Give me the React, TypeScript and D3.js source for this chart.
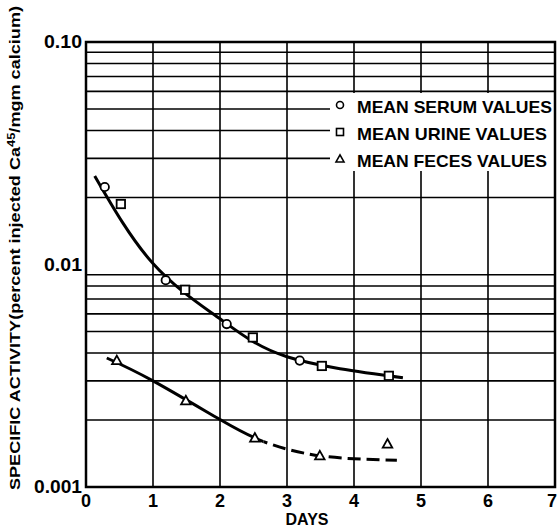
import React from "react";
import * as d3 from "d3";

const serumX = [0.28, 1.19, 2.1, 3.19];
const serumY = [0.0223, 0.0085, 0.0054, 0.0037];
const urineX = [0.52, 1.48, 2.49, 3.52, 4.52];
const urineY = [0.0187, 0.0077, 0.0047, 0.0035, 0.00316];
const fecesX = [0.46, 1.49, 2.52, 3.49, 4.5];
const fecesY = [0.0037, 0.00244, 0.00166, 0.00138, 0.00156];

const fitX = [0.13, 1.0, 2.0, 3.0, 4.73];
const fitY = [0.025, 0.0101, 0.0057, 0.00385, 0.0031];
const fecesFitX = [0.31, 1.0, 2.0, 2.65, 3.5, 4.64];
const fecesFitY = [0.0038, 0.0030, 0.00201, 0.0016, 0.00138, 0.00132];
const fecesSolidEnd = 2.65;

const xTicks = [0, 1, 2, 3, 4, 5, 6, 7];
const yTickLabels = [
  { v: 0.1, t: "0.10" },
  { v: 0.01, t: "0.01" },
  { v: 0.001, t: "0.001" },
];
const legendItems = ["MEAN SERUM VALUES", "MEAN URINE VALUES", "MEAN FECES VALUES"];

export default function App() {
  const L = 86, R = 555, T = 42, B = 487;
  const x = d3.scaleLinear().domain([0, 7]).range([L, R]);
  const y = d3.scaleLog().domain([0.001, 0.1]).range([B, T]);

  const gridY: number[] = [];
  for (const dec of [0.001, 0.01]) for (let k = 2; k <= 9; k++) gridY.push(dec * k);

  const lbX0 = 330, lbY0 = 93, lbY1 = 171;
  const line = d3
    .line<[number, number]>()
    .x((d) => x(d[0]))
    .y((d) => y(d[1]))
    .curve(d3.curveNatural);
  const zip = (a: number[], b: number[]) => a.map((v, i) => [v, b[i]] as [number, number]);

  const font = "'Liberation Sans', Arial, sans-serif";
  const tri = (cx: number, cy: number, s: number) =>
    `M${cx},${cy - s} L${cx + s * 0.95},${cy + s * 0.7} L${cx - s * 0.95},${cy + s * 0.7} Z`;
  const fecesPath = line(zip(fecesFitX, fecesFitY)) || "";
  const xs = x(fecesSolidEnd);

  return (
    <svg
      width={558}
      height={527}
      style={{ position: "absolute", left: 0, top: 0, background: "#fff" }}
      fontFamily={font}
    >
      <defs>
        <clipPath id="solidClip">
          <rect x={0} y={0} width={xs} height={527} />
        </clipPath>
        <clipPath id="dashClip">
          <rect x={xs} y={0} width={558 - xs} height={527} />
        </clipPath>
      </defs>
      <rect x={0} y={0} width={558} height={527} fill="#fff" />
      {gridY.map((v, i) => {
        const yy = y(v);
        const inLegend = yy > lbY0 && yy < lbY1 + 5;
        return (
          <line
            key={"h" + i}
            x1={L}
            x2={inLegend ? lbX0 : R}
            y1={yy}
            y2={yy}
            stroke="#000"
            strokeWidth={1.6}
          />
        );
      })}
      {xTicks.slice(1, 7).map((t) => {
        const xx = x(t);
        if (xx > lbX0) {
          return (
            <g key={"v" + t}>
              <line x1={xx} x2={xx} y1={T} y2={lbY0} stroke="#000" strokeWidth={1.6} />
              <line x1={xx} x2={xx} y1={lbY1} y2={B} stroke="#000" strokeWidth={1.6} />
            </g>
          );
        }
        return <line key={"v" + t} x1={xx} x2={xx} y1={T} y2={B} stroke="#000" strokeWidth={1.6} />;
      })}
      <rect x={L} y={T} width={R - L} height={B - T} fill="none" stroke="#000" strokeWidth={2.5} />
      {legendItems.map((t, i) => {
        const cy = 106 + i * 27;
        return (
          <g key={t}>
            {i === 0 && <circle cx={340} cy={cy - 1} r={3.5} fill="none" stroke="#000" strokeWidth={1.6} />}
            {i === 1 && <rect x={336.5} y={cy - 4.5} width={7} height={7} fill="none" stroke="#000" strokeWidth={1.6} />}
            {i === 2 && <path d={tri(340, cy - 1, 4.2)} fill="none" stroke="#000" strokeWidth={1.6} />}
            <text
              x={357}
              y={cy + 6.5}
              fontSize={17}
              fontWeight="bold"
              textLength={i === 0 ? 195 : 190}
              lengthAdjust="spacingAndGlyphs"
            >
              {t}
            </text>
          </g>
        );
      })}
      <path d={line(zip(fitX, fitY)) || ""} fill="none" stroke="#000" strokeWidth={3} />
      <path d={fecesPath} fill="none" stroke="#000" strokeWidth={3} clipPath="url(#solidClip)" />
      <path
        d={fecesPath}
        fill="none"
        stroke="#000"
        strokeWidth={3}
        strokeDasharray="13,6"
        strokeDashoffset={-150}
        clipPath="url(#dashClip)"
      />
      {serumX.map((v, i) => (
        <circle key={"s" + i} cx={x(v)} cy={y(serumY[i])} r={4.2} fill="#fff" stroke="#000" strokeWidth={1.8} />
      ))}
      {urineX.map((v, i) => (
        <rect
          key={"u" + i}
          x={x(v) - 4.2}
          y={y(urineY[i]) - 4.2}
          width={8.4}
          height={8.4}
          fill="#fff"
          stroke="#000"
          strokeWidth={1.8}
        />
      ))}
      {fecesX.map((v, i) => (
        <path key={"f" + i} d={tri(x(v), y(fecesY[i]), 5)} fill="#fff" stroke="#000" strokeWidth={1.8} />
      ))}
      {yTickLabels.map((d) => (
        <text
          key={d.t}
          x={82}
          y={y(d.v) + 6}
          textAnchor="end"
          fontSize={18}
          fontWeight="bold"
          textLength={d.t.length === 4 ? 38 : 48}
          lengthAdjust="spacingAndGlyphs"
        >
          {d.t}
        </text>
      ))}
      {xTicks.map((t) => (
        <text
          key={"xt" + t}
          x={t === 7 ? x(t) - 3 : x(t)}
          y={507}
          textAnchor="middle"
          fontSize={18}
          fontWeight="bold"
        >
          {t}
        </text>
      ))}
      <text x={307} y={525} textAnchor="middle" fontSize={16} fontWeight="bold">
        DAYS
      </text>
      <text
        transform="translate(20,248) rotate(-90)"
        textAnchor="middle"
        fontSize={14}
        fontWeight="bold"
        textLength={484}
        lengthAdjust="spacingAndGlyphs"
      >
        SPECIFIC ACTIVITY(percent injected Ca
        <tspan dy={-5} fontSize={10}>45</tspan>
        <tspan dy={5}>/mgm calcium)</tspan>
      </text>
    </svg>
  );
}
